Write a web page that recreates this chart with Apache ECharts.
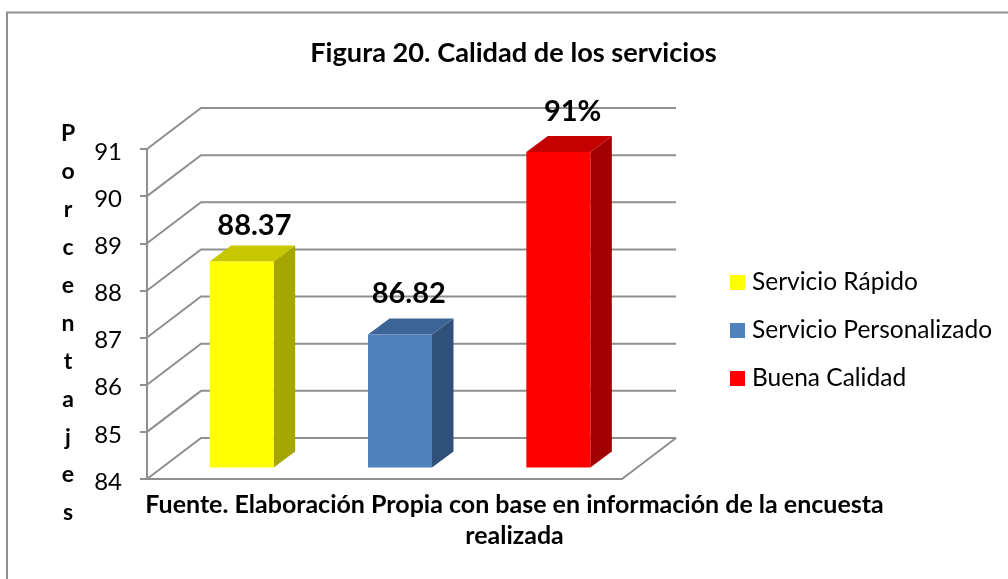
<!DOCTYPE html>
<html><head><meta charset="utf-8">
<style>html,body{margin:0;padding:0;background:#fff}#c{width:1008px;height:579px}</style>
<script src="https://cdn.jsdelivr.net/npm/echarts@6/dist/echarts.min.js"></script>
</head><body><div id="c"></div>
<script>
const categories = ['Servicio Rápido', 'Servicio Personalizado', 'Buena Calidad'];
const values = [88.37, 86.82, 90.69];
const valueLabels = ['88.37', '86.82', '91%'];
const colors = ['#ffff00', '#4f81bd', '#ff0000'];
const topColors = ['#c8c800', '#3c6595', '#c40000'];
const sideColors = ['#a6a600', '#2f5078', '#a00000'];
const ticks = [84, 85, 86, 87, 88, 89, 90, 91];
const axisTitle = 'Porcentajes';
const titleText = 'Figura 20. Calidad de los servicios';
const sourceText = 'Fuente. Elaboración Propia con base en información de la encuesta\nrealizada';

const FONT = 'Lato, "Open Sans", sans-serif';
const GRID = '#8f8f8f';
const wallDepth = [54, -41];
const barDepth = [21.5, -16];
const barOffset = [15.5, -11.6];
const barWidth = 64;
const labelLift = [20, 25, 24];
const labelShift = [2, -2, 3.5];

const chart = echarts.init(document.getElementById('c'), null, {renderer: 'canvas'});

function wallSeries() {
  return {
    type: 'custom', silent: true, z: 1,
    data: ticks.map(t => [0, t]),
    encode: {x: 0, y: 1},
    renderItem(params, api) {
      const cs = params.coordSys;
      const p = api.coord([0, api.value(1)]);
      const x0 = cs.x, y = p[1];
      const x1 = cs.x + wallDepth[0], y1 = y + wallDepth[1];
      const x2 = cs.x + cs.width + wallDepth[0];
      const children = [{
        type: 'polyline',
        shape: {points: [[x0, y], [x1, y1], [x2, y1]]},
        style: {stroke: GRID, lineWidth: 2, fill: null}
      }];
      if (api.value(1) === ticks[0]) {
        children.push({
          type: 'line',
          shape: {x1: cs.x + cs.width, y1: y, x2, y2: y1},
          style: {stroke: GRID, lineWidth: 2}
        });
      }
      return {type: 'group', children};
    }
  };
}

function barSeries(i) {
  return {
    type: 'custom', name: categories[i], z: 3, clip: false,
    itemStyle: {color: colors[i]},
    data: [[i, values[i]]],
    encode: {x: 0, y: 1},
    renderItem(params, api) {
      const top = api.coord([api.value(0), api.value(1)]);
      const base = api.coord([api.value(0), ticks[0]]);
      const x0 = top[0] + barOffset[0] - barWidth / 2, x1 = x0 + barWidth;
      const yt = top[1] + barOffset[1], yb = base[1] + barOffset[1];
      const dx = barDepth[0], dy = barDepth[1];
      return {type: 'group', children: [
        {type: 'polygon', shape: {points: [[x1, yt], [x1 + dx, yt + dy], [x1 + dx, yb + dy], [x1, yb]]}, style: {fill: sideColors[i]}},
        {type: 'polygon', shape: {points: [[x0, yt], [x0 + dx, yt + dy], [x1 + dx, yt + dy], [x1, yt]]}, style: {fill: topColors[i]}},
        {type: 'rect', shape: {x: x0, y: yt, width: barWidth, height: yb - yt}, style: {fill: colors[i]}},
        {type: 'text', style: {
          text: valueLabels[i], x: x0 + (barWidth + dx) / 2 + labelShift[i], y: yt + dy - labelLift[i],
          align: 'center', verticalAlign: 'middle',
          font: 'bold 29px ' + FONT, fill: '#000'
        }}
      ]};
    }
  };
}

chart.setOption({
  animation: false,
  backgroundColor: '#fff',
  graphic: [{
    type: 'rect', z: -1, silent: true,
    shape: {x: 7, y: 12.5, width: 1100, height: 600},
    style: {fill: '#fff', stroke: '#8f8f8f', lineWidth: 2}
  }],
  title: [{
    text: titleText, left: 508.5, top: 35, textAlign: 'center',
    textStyle: {fontFamily: FONT, fontWeight: 'bold', fontSize: 27.2, color: '#000'}
  }, {
    text: sourceText, left: 509.5, top: 484, textAlign: 'center',
    textStyle: {fontFamily: FONT, fontWeight: 'bold', fontSize: 25, lineHeight: 31, color: '#000'}
  }, {
    text: axisTitle.split('').join('\n'), left: 63, top: 110, textAlign: 'center',
    textStyle: {fontFamily: FONT, fontWeight: 'bold', fontSize: 23, lineHeight: 37.9, color: '#000'}
  }],
  legend: {
    data: categories, orient: 'vertical', left: 725, top: 265,
    icon: 'rect', itemWidth: 15, itemHeight: 15, itemGap: 23,
    textStyle: {fontFamily: FONT, fontSize: 24.5, color: '#000', lineHeight: 23, padding: [0, 0, 0, 2]}
  },
  grid: {left: 147, right: 386, top: 149, bottom: 100},
  xAxis: {
    type: 'category', data: categories,
    axisLine: {lineStyle: {color: GRID, width: 2}},
    axisTick: {show: false}, axisLabel: {show: false}
  },
  yAxis: {
    type: 'value', min: ticks[0], max: ticks[ticks.length - 1], interval: 1,
    axisLine: {show: true, lineStyle: {color: GRID, width: 2}},
    axisTick: {show: true, length: 7, lineStyle: {color: GRID, width: 2}},
    axisLabel: {
      margin: 25, formatter: '{v|{value}}',
      rich: {v: {fontFamily: FONT, fontSize: 24, color: '#000', padding: [6, 0, 0, 0]}}
    },
    splitLine: {show: false}
  },
  series: [wallSeries(), barSeries(0), barSeries(1), barSeries(2)]
});
</script></body></html>
